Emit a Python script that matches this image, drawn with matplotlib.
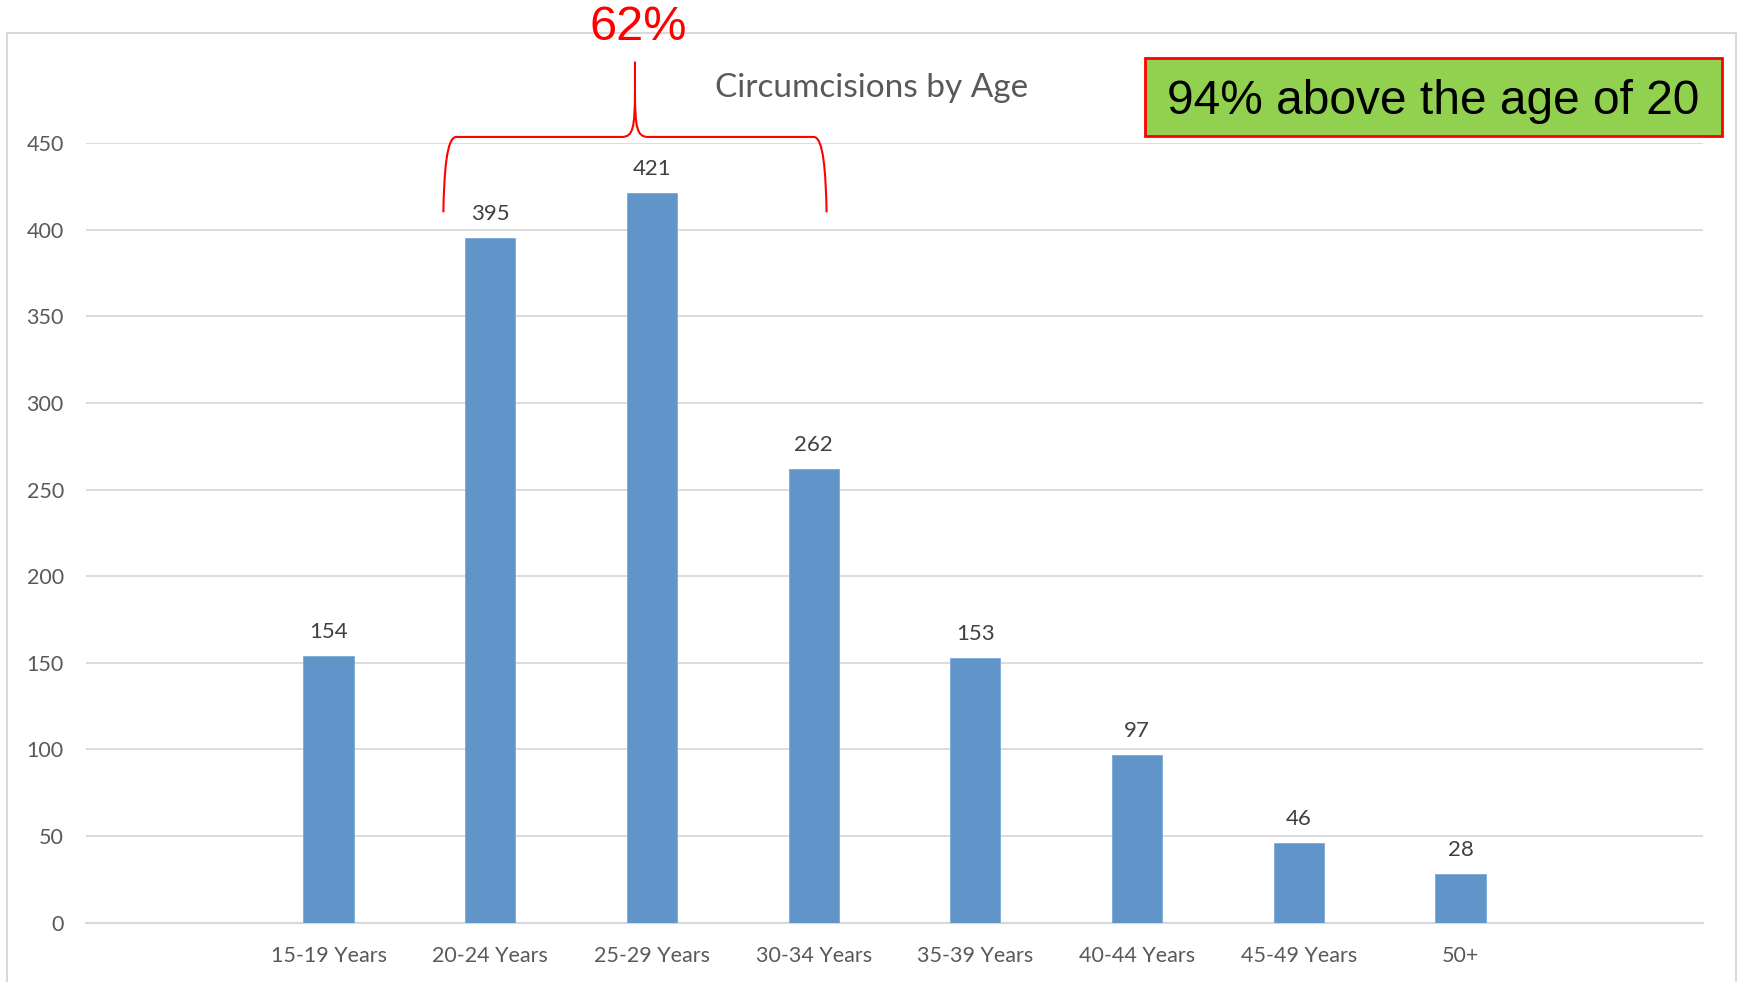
import matplotlib
matplotlib.use("Agg")
import matplotlib.pyplot as plt
from matplotlib.path import Path
from matplotlib.patches import PathPatch, Rectangle

categories = ["", "15-19 Years", "20-24 Years", "25-29 Years", "30-34 Years",
              "35-39 Years", "40-44 Years", "45-49 Years", "50+", ""]
values = [0, 154, 395, 421, 262, 153, 97, 46, 28, 0]
yticks = [0, 50, 100, 150, 200, 250, 300, 350, 400, 450]
title = "Circumcisions by Age"
brace_text = "62%"
box_text = "94% above the age of 20"

FONT = "Lato"
GREY = "#595959"

fig = plt.figure(figsize=(17.41, 9.82), dpi=100)
W, H = 1741, 982

# chart border
fig.patches.append(Rectangle((7 / W, -0.01), (1736 - 7) / W, (982 - 33) / H + 0.01,
                             transform=fig.transFigure, fill=False,
                             edgecolor="#d9d9d9", linewidth=1.5))

ax = fig.add_axes([86 / W, (982 - 922.7) / H, (1703 - 86) / W, (922.7 - 143) / H])
x = list(range(len(categories)))
bar_vals = [v if v > 0 else float("nan") for v in values]
bars = ax.bar(x, bar_vals, width=0.31, color="#6195c9", edgecolor="#7aa9d6",
              linewidth=0.6, zorder=3)
labels = [str(v) if v > 0 else "" for v in values]
ax.bar_label(bars, labels=labels, padding=10, fontsize=16, color="#404040",
             family=FONT)

ax.set_xlim(-0.5, len(categories) - 0.5)
ax.set_ylim(0, 450)
ax.set_yticks(yticks)
ax.set_yticklabels([str(t) for t in yticks], fontsize=15.5, color=GREY, family=FONT)
ax.set_xticks(x)
ax.set_xticklabels(categories, fontsize=15.5, color=GREY, family=FONT)
ax.tick_params(axis="both", length=0)
ax.tick_params(axis="y", pad=16)
ax.tick_params(axis="x", pad=17)
ax.grid(axis="y", color="#d9d9d9", linewidth=1.3, zorder=0)
for s in ["top", "right", "left"]:
    ax.spines[s].set_visible(False)
ax.spines["bottom"].set_color("#d9d9d9")
ax.spines["bottom"].set_linewidth(1.6)

fig.text(872 / W, 1 - 88 / H, title, ha="center", va="center", fontsize=24,
         color=GREY, family=FONT)

# brace over 20-24 .. 30-34
L, R, C = 1.71, 4.08, 2.895
yb, yh, yt = 410, 453.5, 497
dx = 0.08
verts = [
    (L, yb), (L + 0.005, yh - 20), (L + 0.02, yh), (L + dx, yh),
    (C - dx, yh),
    (C - 0.01, yh), (C - 0.002, yh + 6), (C, yh + 25),
    (C, yt),
    (C, yh + 25),
    (C + 0.002, yh + 6), (C + 0.01, yh), (C + dx, yh),
    (R - dx, yh),
    (R - 0.02, yh), (R - 0.005, yh - 20), (R, yb),
]
codes = [Path.MOVETO, Path.CURVE4, Path.CURVE4, Path.CURVE4,
         Path.LINETO,
         Path.CURVE4, Path.CURVE4, Path.CURVE4,
         Path.LINETO,
         Path.MOVETO,
         Path.CURVE4, Path.CURVE4, Path.CURVE4,
         Path.LINETO,
         Path.CURVE4, Path.CURVE4, Path.CURVE4]
ax.add_patch(PathPatch(Path(verts, codes), fill=False, edgecolor="red",
                       linewidth=1.5, clip_on=False, zorder=5))

fig.text(638 / W, 1 - 28 / H, brace_text, ha="center", va="center",
         fontsize=35, color="red", family="Liberation Sans")

# green box
fig.patches.append(Rectangle((1145 / W, 1 - 136 / H), (1722 - 1145) / W, (136 - 58) / H,
                             transform=fig.transFigure, facecolor="#92d050",
                             edgecolor="red", linewidth=2))
fig.text((1145 + 1722) / 2 / W, 1 - 101 / H, box_text, ha="center", va="center",
         fontsize=34.5, color="black", family="Liberation Sans")

fig.savefig("out.png", dpi=100)
